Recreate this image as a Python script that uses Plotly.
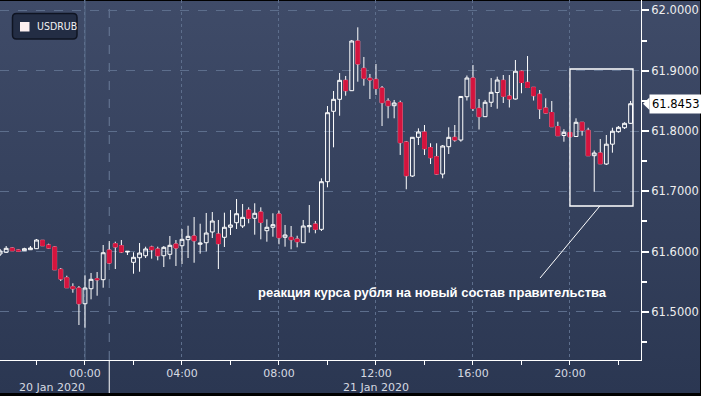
import base64
import pandas as pd
import plotly.graph_objects as go

# ---------------- data (USDRUB, 15-minute candles) ----------------
times = pd.date_range("2020-01-20 20:30", periods=105, freq="15min")

open_ = [61.5961, 61.5989, 61.6060, 61.6027, 61.6015, 61.6032, 61.6049, 61.6188, 61.6110, 61.6077,
         61.5707, 61.5568, 61.5418, 61.5397, 61.5136, 61.5385, 61.5551, 61.5535, 61.6027, 61.6132,
         61.6098, 61.5994, 61.5823, 61.5899, 61.5932, 61.6077, 61.6044, 61.5932, 61.5956, 61.6127,
         61.6098, 61.6198, 61.6259, 61.6122, 61.6148, 61.6326, 61.6292, 61.6238, 61.6404, 61.6480,
         61.6425, 61.6690, 61.6553, 61.6657, 61.6347, 61.6404, 61.6624, 61.6238, 61.6238, 61.6209,
         61.6148, 61.6413, 61.6458, 61.6370, 61.7160, 61.8327, 61.8526, 61.8841, 61.8669, 61.9493,
         61.9040, 61.8875, 61.8858, 61.8714, 61.8498, 61.8420, 61.8470, 61.7818, 61.7254, 61.7896,
         61.7984, 61.7724, 61.7574, 61.7287, 61.7740, 61.7896, 61.7851, 61.8569, 61.8879, 61.8377,
         61.8238, 61.8477, 61.8639, 61.8841, 61.8581, 61.8531, 61.8992, 61.8808, 61.8725, 61.8611,
         61.8382, 61.8307, 61.8075, 61.7926, 61.7976, 61.7909, 61.8145, 61.8012, 61.7591, 61.7636,
         61.7453, 61.7782, 61.7989, 61.8055, 61.8128]

high = [61.6044, 61.6093, 61.6069, 61.6035, 61.6065, 61.6093, 61.6209, 61.6193, 61.6132, 61.6085,
        61.5729, 61.5601, 61.5475, 61.5430, 61.5607, 61.5646, 61.5662, 61.6110, 61.6176, 61.6165,
        61.6193, 61.6005, 61.5989, 61.6143, 61.6082, 61.6098, 61.6082, 61.6093, 61.6259, 61.6193,
        61.6375, 61.6430, 61.6574, 61.6463, 61.6641, 61.6657, 61.6525, 61.6646, 61.6690, 61.6873,
        61.6790, 61.6735, 61.6802, 61.6735, 61.6536, 61.6636, 61.6679, 61.6442, 61.6425, 61.6264,
        61.6525, 61.6773, 61.6508, 61.7216, 61.8415, 61.8664, 61.8962, 61.8913, 61.9510, 61.9720,
        61.9228, 61.8946, 61.9112, 61.8747, 61.8543, 61.8515, 61.8503, 61.7835, 61.7901, 61.8045,
        61.8100, 61.7797, 61.7797, 61.7768, 61.8062, 61.8100, 61.8581, 61.8921, 61.9095, 61.8531,
        61.8515, 61.8879, 61.8901, 61.8929, 61.8929, 61.9178, 61.9004, 61.9244, 61.8730, 61.8680,
        61.8543, 61.8498, 61.8155, 61.8030, 61.7984, 61.8211, 61.8150, 61.8054, 61.7677, 61.7868,
        61.7934, 61.8055, 61.8083, 61.8146, 61.8498]

low = [61.5928, 61.5977, 61.6010, 61.6002, 61.6010, 61.6027, 61.6044, 61.6093, 61.6052, 61.5695,
       61.5513, 61.5397, 61.5319, 61.4783, 61.4738, 61.5209, 61.5269, 61.5402, 61.5795, 61.5712,
       61.5977, 61.5944, 61.5634, 61.5667, 61.5894, 61.5883, 61.5856, 61.5745, 61.5873, 61.5762,
       61.5795, 61.5894, 61.5816, 61.5966, 61.6005, 61.6226, 61.5712, 61.6077, 61.6276, 61.6375,
       61.6392, 61.6470, 61.6281, 61.6204, 61.6165, 61.6248, 61.6122, 61.6082, 61.6039, 61.6072,
       61.6143, 61.6314, 61.6304, 61.6342, 61.7067, 61.7730, 61.8254, 61.8586, 61.8664, 61.8818,
       61.8752, 61.8531, 61.8598, 61.8083, 61.8211, 61.8211, 61.7603, 61.7034, 61.7238, 61.7768,
       61.7603, 61.7453, 61.7279, 61.7216, 61.7619, 61.7823, 61.7823, 61.8506, 61.8332, 61.8025,
       61.8233, 61.8399, 61.8370, 61.8465, 61.8390, 61.8523, 61.8626, 61.8714, 61.8506, 61.8200,
       61.8291, 61.8067, 61.7918, 61.7823, 61.7901, 61.7901, 61.7923, 61.7586, 61.6994, 61.7453,
       61.7437, 61.7641, 61.7972, 61.8034, 61.8117]

close = [61.6010, 61.6055, 61.6015, 61.6010, 61.6049, 61.6060, 61.6193, 61.6098, 61.6060, 61.5700,
         61.5546, 61.5402, 61.5385, 61.5136, 61.5397, 61.5541, 61.5535, 61.5982, 61.5811, 61.6077,
         61.5994, 61.6005, 61.5906, 61.5977, 61.6044, 61.6032, 61.5932, 61.6072, 61.6105, 61.6060,
         61.6204, 61.6254, 61.6181, 61.6143, 61.6309, 61.6508, 61.6132, 61.6404, 61.6442, 61.6629,
         61.6569, 61.6553, 61.6636, 61.6486, 61.6404, 61.6447, 61.6231, 61.6276, 61.6198, 61.6165,
         61.6425, 61.6430, 61.6370, 61.7160, 61.8304, 61.8526, 61.8841, 61.8669, 61.9493, 61.9112,
         61.8875, 61.8846, 61.8705, 61.8470, 61.8420, 61.8465, 61.7807, 61.7259, 61.7896, 61.7984,
         61.7707, 61.7558, 61.7287, 61.7752, 61.7896, 61.7851, 61.8573, 61.8879, 61.8374, 61.8238,
         61.8477, 61.8642, 61.8846, 61.8576, 61.8531, 61.8992, 61.8805, 61.8722, 61.8586, 61.8365,
         61.8299, 61.8072, 61.7923, 61.7979, 61.7906, 61.8145, 61.8012, 61.7591, 61.7636, 61.7458,
         61.7782, 61.7997, 61.8062, 61.8128, 61.8453]

series_name = "USDRUB"
last_price = close[-1]

x_major_ticks = ["2020-01-21 00:00", "2020-01-21 04:00", "2020-01-21 08:00",
                 "2020-01-21 12:00", "2020-01-21 16:00", "2020-01-21 20:00"]
x_major_labels = ["00:00", "04:00", "08:00", "12:00", "16:00", "20:00"]
x_minor_ticks = ["2020-01-20 22:00", "2020-01-21 02:00", "2020-01-21 06:00",
                 "2020-01-21 10:00", "2020-01-21 14:00", "2020-01-21 18:00",
                 "2020-01-21 22:00"]
date_labels = ["20 Jan 2020", "21 Jan 2020"]
date_label_pos = ["2020-01-20 22:38", "2020-01-21 12:00"]
day_break = "2020-01-21 01:00"
midnight = "2020-01-21 00:00"

note_text = "реакция курса рубля на новый состав правительства"

# ---------------- styling ----------------
W, H = 701, 396
ML, MR, MT, MB = 0, 60, 0, 36
PW, PH = W - ML - MR, H - MT - MB
RED = "#d4143e"
GRID = "#5d6e8c"
FONT = "DejaVu Sans"


def fx(px):
    return (px - ML) / PW


def fy(py):
    return 1 - (py - MT) / PH


# gradient background (svg data URI)
svg = ("<svg xmlns='http://www.w3.org/2000/svg' width='700' height='392' preserveAspectRatio='none'>"
       "<defs><linearGradient id='g' x1='0' y1='0' x2='0' y2='1'>"
       "<stop offset='0' stop-color='#3f4b68'/><stop offset='1' stop-color='#2b3752'/>"
       "</linearGradient></defs><rect width='700' height='392' fill='url(#g)'/></svg>")
bg_uri = "data:image/svg+xml;base64," + base64.b64encode(svg.encode()).decode()

fig = go.Figure()

# all candles: white wicks / outlines, hollow up-candles
fig.add_trace(go.Candlestick(
    x=times, open=open_, high=high, low=low, close=close,
    increasing=dict(line=dict(color="#ffffff", width=1), fillcolor="rgba(0,0,0,0)"),
    decreasing=dict(line=dict(color="#ffffff", width=1), fillcolor=RED),
    whiskerwidth=0, name=series_name, showlegend=False, hoverinfo="skip",
))

# red bodies on top of the down candles (body only)
body_hi = [max(o, c) if c < o else None for o, c in zip(open_, close)]
body_lo = [min(o, c) if c < o else None for o, c in zip(open_, close)]
dn_open = [o if c < o else None for o, c in zip(open_, close)]
dn_close = [c if c < o else None for o, c in zip(open_, close)]
fig.add_trace(go.Candlestick(
    x=times, open=dn_open, high=body_hi, low=body_lo, close=dn_close,
    increasing=dict(line=dict(color=RED, width=1), fillcolor=RED),
    decreasing=dict(line=dict(color=RED, width=1), fillcolor=RED),
    whiskerwidth=0, showlegend=False, hoverinfo="skip",
))

shapes = []
# midnight solid line and day-break dashed separator
shapes.append(dict(type="line", xref="x", yref="paper", x0=midnight, x1=midnight, y0=0, y1=1,
                   line=dict(color="#5a6d8b", width=1), layer="between"))
shapes.append(dict(type="line", xref="x", yref="paper", x0=day_break, x1=day_break, y0=0, y1=1,
                   line=dict(color="#6a7c99", width=1, dash="dash"), layer="between"))
shapes.append(dict(type="line", xref="x", yref="paper", x0=day_break, x1=day_break,
                   y0=fy(393), y1=0, line=dict(color="#ffffff", width=1), layer="above"))

# annotation rectangle and pointer line
shapes.append(dict(type="rect", xref="x", yref="y", x0="2020-01-21 20:00", x1="2020-01-21 22:36",
                   y0=61.6757, y1=61.9029, line=dict(color="#ffffff", width=1.3),
                   fillcolor="rgba(0,0,0,0)"))
shapes.append(dict(type="line", xref="x", yref="y", x0="2020-01-21 18:46", y0=61.5563,
                   x1="2020-01-21 21:14", y1=61.6757, line=dict(color="#ffffff", width=1)))


def rounded(x0, y0, x1, y1, r):
    return (f"M {fx(x0 + r)},{fy(y0)} L {fx(x1 - r)},{fy(y0)} Q {fx(x1)},{fy(y0)} {fx(x1)},{fy(y0 + r)} "
            f"L {fx(x1)},{fy(y1 - r)} Q {fx(x1)},{fy(y1)} {fx(x1 - r)},{fy(y1)} "
            f"L {fx(x0 + r)},{fy(y1)} Q {fx(x0)},{fy(y1)} {fx(x0)},{fy(y1 - r)} "
            f"L {fx(x0)},{fy(y0 + r)} Q {fx(x0)},{fy(y0)} {fx(x0 + r)},{fy(y0)} Z")


# legend box (rounded)
shapes.append(dict(type="path", xref="paper", yref="paper", path=rounded(12.5, 13.5, 77, 39, 4),
                   fillcolor="#232d44", line=dict(color="#0f1422", width=1.5), layer="above"))
shapes.append(dict(type="rect", xref="paper", yref="paper", x0=fx(20), x1=fx(29.5), y0=fy(31.5), y1=fy(22),
                   fillcolor="#fdf0f0", line=dict(width=0), layer="above"))

# last-price tag pointer
shapes.append(dict(type="path", xref="paper", yref="y",
                   path=f"M {fx(643)},{last_price} L {fx(649.5)},{last_price + 0.0105} "
                        f"L {fx(649.5)},{last_price - 0.0105} Z",
                   fillcolor="#ffffff", line=dict(width=0), layer="above"))

annotations = [
    dict(text=series_name, xref="paper", yref="paper", x=fx(34.5), y=fy(26.5), xanchor="left",
         yanchor="middle", showarrow=False,
         font=dict(family="Liberation Sans Narrow, DejaVu Sans Condensed, Liberation Sans", size=10.5,
                   color="#f2f2f2")),
    dict(text=note_text, xref="x", yref="y", x="2020-01-21 14:20", y=61.5330, showarrow=False,
         xanchor="center", yanchor="middle",
         font=dict(family="Liberation Sans", size=13, color="#ffffff", weight="bold")),
    dict(text=f"{last_price:.4f}", xref="paper", yref="y", x=fx(649), y=last_price, xanchor="left",
         yanchor="middle", showarrow=False, bgcolor="#ffffff", borderpad=2,
         font=dict(family=FONT, size=11.5, color="#000000")),
]
for lbl, pos in zip(date_labels, date_label_pos):
    annotations.append(dict(text=lbl, xref="x", yref="paper", x=pos, y=fy(387.5), xanchor="center",
                            yanchor="middle", showarrow=False,
                            font=dict(family=FONT, size=11, color="#d6dae2")))

fig.update_layout(
    width=W, height=H,
    margin=dict(l=ML, r=MR, t=MT, b=MB, pad=0, autoexpand=False),
    paper_bgcolor="#000000", plot_bgcolor="rgba(0,0,0,0)",
    showlegend=False,
    boxgap=0.1,
    images=[dict(source=bg_uri, xref="paper", yref="paper", x=0, y=fy(1), sizex=700 / PW,
                 sizey=392 / PH, sizing="stretch", xanchor="left", yanchor="top", layer="below")],
    shapes=shapes,
    annotations=annotations,
    xaxis=dict(
        type="date", range=["2020-01-20 20:29:42", "2020-01-21 22:55:45"],
        rangeslider=dict(visible=False),
        tickmode="array", tickvals=x_major_ticks, ticktext=x_major_labels,
        ticks="outside", ticklen=4, tickcolor="#ffffff", tickwidth=1,
        ticklabelstandoff=-1,
        showline=True, linecolor="#ffffff", linewidth=1,
        showgrid=True, gridcolor=GRID, griddash="dot", gridwidth=1,
        minor=dict(tickmode="array", tickvals=x_minor_ticks, ticks="outside", ticklen=4,
                   tickcolor="#ffffff", showgrid=False),
        tickfont=dict(family=FONT, size=11, color="#d6dae2"),
        zeroline=False, fixedrange=True,
    ),
    yaxis=dict(
        side="right", range=[61.4203, 62.0173],
        tickmode="linear", tick0=61.5, dtick=0.1, tickformat=".4f",
        ticks="outside", ticklen=7, tickcolor="#ffffff", tickwidth=1.5,
        showline=True, linecolor="#ffffff", linewidth=1,
        showgrid=True, gridcolor=GRID, griddash="dash", gridwidth=1,
        minor=dict(dtick=0.05, ticks="outside", ticklen=5, tickcolor="#ffffff", showgrid=False),
        tickfont=dict(family=FONT, size=11.5, color="#eeeeee"),
        zeroline=False, fixedrange=True,
    ),
)

fig.write_html("out.html", config={"displayModeBar": False},
               post_script="document.body.style.margin='0';document.body.style.overflow='hidden';")
